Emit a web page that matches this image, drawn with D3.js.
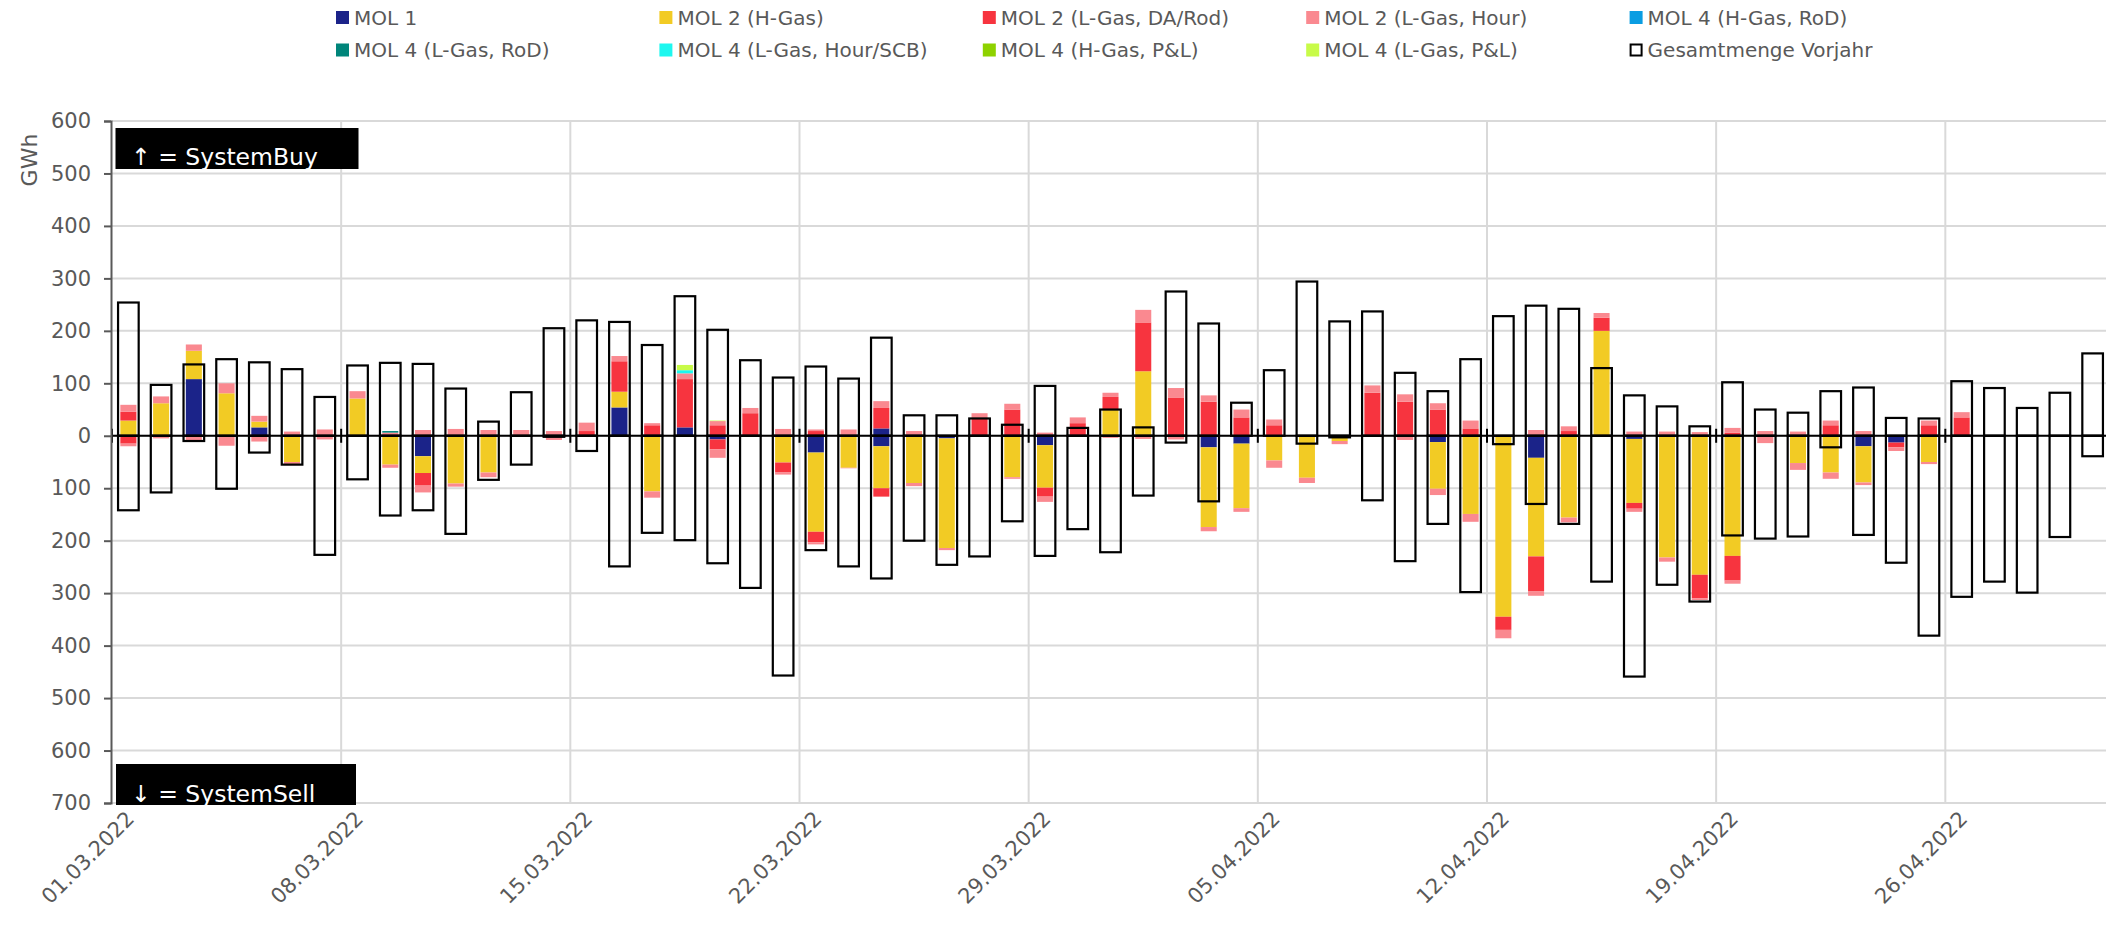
<!DOCTYPE html>
<html>
<head>
<meta charset="utf-8">
<script src="https://cdn.jsdelivr.net/npm/d3@7"></script>
<style>
  body { margin: 0; background: #fff; }
  svg text { font-family: "DejaVu Sans", sans-serif; fill: #595959; }
</style>
</head>
<body>
<div id="chart"></div>
<script>
var days = ["01.03.2022","02.03.2022","03.03.2022","04.03.2022","05.03.2022","06.03.2022","07.03.2022",
    "08.03.2022","09.03.2022","10.03.2022","11.03.2022","12.03.2022","13.03.2022","14.03.2022",
    "15.03.2022","16.03.2022","17.03.2022","18.03.2022","19.03.2022","20.03.2022","21.03.2022",
    "22.03.2022","23.03.2022","24.03.2022","25.03.2022","26.03.2022","27.03.2022","28.03.2022",
    "29.03.2022","30.03.2022","31.03.2022","01.04.2022","02.04.2022","03.04.2022","04.04.2022",
    "05.04.2022","06.04.2022","07.04.2022","08.04.2022","09.04.2022","10.04.2022","11.04.2022",
    "12.04.2022","13.04.2022","14.04.2022","15.04.2022","16.04.2022","17.04.2022","18.04.2022",
    "19.04.2022","20.04.2022","21.04.2022","22.04.2022","23.04.2022","24.04.2022","25.04.2022",
    "26.04.2022","27.04.2022","28.04.2022","29.04.2022","30.04.2022"];

var tickDays = ["01.03.2022","08.03.2022","15.03.2022","22.03.2022","29.03.2022",
    "05.04.2022","12.04.2022","19.04.2022","26.04.2022"];

var yTicks = [600,500,400,300,200,100,0,-100,-200,-300,-400,-500,-600,-700];

// SystemBuy (up) and SystemSell (down) per series, GWh
var mol1Buy  = [0,0,108,0,16,0,0,0,0,0, 0,0,0,0,0,54,0,16,0,0, 0,0,0,14,0,0,0,0,0,0, 0,0,0,0,0,0,0,0,0,0, 0,0,0,0,0,0,0,0,0,0, 0,0,0,0,0,0,0,0,0,0, 0];
var mol1Sell = [0,0,0,0,0,0,0,0,0,39, 0,0,0,0,0,0,0,0,7,0, 0,32,0,20,0,5,0,0,18,0, 0,0,0,22,15,0,0,0,0,0, 12,0,0,42,0,0,6,0,0,0, 0,0,0,20,13,0,0,0,0,0, 0];

var mol2hBuy  = [29,62,54,81,11,0,0,71,0,0, 0,0,0,0,0,30,0,0,0,0, 0,0,0,0,0,0,0,0,0,0, 49,123,0,0,0,0,0,0,0,0, 0,0,0,0,0,200,0,0,0,0, 0,0,0,0,0,0,0,0,0,0, 0];
var mol2hSell = [0,0,0,0,0,50,0,0,55,32, 91,70,0,0,0,0,106,0,0,0, 51,151,61,80,90,209,0,79,81,0, 0,0,0,152,123,47,80,10,0,0, 89,149,345,188,156,0,122,232,265,229, 0,52,70,69,0,50,0,0,0,0, 0];

var mol2lDaBuy  = [17,0,0,0,0,0,0,0,0,0, 0,0,0,0,9,58,20,92,20,43, 0,9,0,39,0,0,32,50,0,24, 25,93,73,65,35,20,0,0,82,65, 50,14,0,0,9,25,0,0,0,6, 0,0,20,0,0,20,35,0,0,0, 0];
var mol2lDaSell = [15,0,0,0,0,0,0,0,0,24, 0,0,0,0,0,0,0,0,19,0, 19,20,0,16,0,0,0,0,17,0, 0,0,0,0,0,0,0,0,0,0, 0,0,25,66,0,0,11,0,45,47, 0,0,0,0,9,0,0,0,0,0, 0];

var mol2lHourBuy  = [13,13,12,19,11,8,12,14,6,11, 13,11,11,9,16,10,4,11,8,10, 13,3,12,13,9,0,11,11,6,11, 8,24,18,12,15,11,0,1,14,14, 12,15,0,11,9,9,8,8,7,9, 9,8,9,9,0,9,10,0,0,0, 0];
var mol2lHourSell = [5,5,9,19,11,6,7,0,6,13, 6,9,0,8,0,0,12,0,16,0, 4,4,1,0,6,4,0,3,10,0, 4,6,7,8,7,14,10,6,0,8, 12,15,16,9,9,0,6,8,3,6, 14,13,12,5,7,4,0,0,0,0, 0];

var mol4hRodBuy   = [0,0,0,0,0,0,0,0,0,0, 0,0,0,0,0,0,0,0,0,0, 0,0,0,0,0,0,0,0,0,0, 0,0,0,0,0,0,0,0,0,0, 0,0,0,0,0,0,0,0,0,0, 0,0,0,0,0,0,0,0,0,0, 0];
var mol4lRodBuy   = [0,0,0,0,0,0,0,0,3,0, 0,0,0,0,0,0,0,0,0,0, 0,0,0,0,0,0,0,0,0,0, 0,0,0,0,0,0,0,0,0,0, 0,0,0,0,0,0,0,0,0,0, 0,0,0,0,0,0,0,0,0,0, 0];
var mol4lHourBuy  = [0,0,0,0,0,0,0,0,0,0, 0,0,0,0,0,0,0,6,0,0, 0,0,0,0,0,0,0,0,0,0, 0,0,0,0,0,0,0,0,0,0, 0,0,0,0,0,0,0,0,0,0, 0,0,0,0,0,0,0,0,0,0, 0];
var mol4hPlBuy    = [0,0,0,0,0,0,0,0,0,0, 0,0,0,0,0,0,0,0,0,0, 0,0,0,0,0,0,0,0,0,0, 0,0,0,0,0,0,0,0,0,0, 0,0,0,0,0,0,0,0,0,0, 0,0,0,0,0,0,0,0,0,0, 0];
var mol4lPlBuy    = [0,0,0,0,0,0,0,0,0,0, 0,0,0,0,0,0,0,10,1,0, 0,0,0,0,0,0,0,0,0,0, 0,0,0,0,0,0,0,0,0,0, 0,0,0,0,0,0,0,0,0,0, 0,0,0,0,0,0,0,0,0,0, 0];

// Gesamtmenge Vorjahr
var prevBuy  = [254,97,136,146,140,127,74,134,139,137, 90,27,83,205,220,217,173,266,202,144, 111,132,109,187,39,39,33,21,95,15, 50,16,275,214,63,125,294,218,237,120, 85,146,228,248,242,129,77,56,18,102, 50,44,85,92,34,33,104,91,53,82, 157];
var prevSell = [142,108,10,101,32,55,227,83,152,142, 187,84,55,2,29,249,185,199,243,290, 457,218,249,272,200,246,230,163,229,178, 222,114,13,125,0,0,15,3,123,239, 168,298,16,130,168,278,459,284,316,190, 196,192,22,189,242,381,307,278,299,193, 39];

var seriesNames = ["MOL 1","MOL 2 (H-Gas)","MOL 2 (L-Gas, DA/Rod)","MOL 2 (L-Gas, Hour)","MOL 4 (H-Gas, RoD)",
    "MOL 4 (L-Gas, RoD)","MOL 4 (L-Gas, Hour/SCB)","MOL 4 (H-Gas, P&L)","MOL 4 (L-Gas, P&L)"];
var seriesBuy  = [mol1Buy, mol2hBuy, mol2lDaBuy, mol2lHourBuy, mol4hRodBuy, mol4lRodBuy, mol4lHourBuy, mol4hPlBuy, mol4lPlBuy];
var seriesSell = [mol1Sell, mol2hSell, mol2lDaSell, mol2lHourSell, null, null, null, null, null];
var colors = ["#1b2389","#f2cb24","#f7343f","#fa8990","#0a9de2","#00857a","#1ef7ef","#8ed200","#c8fb48"];

(function() {
    var width = 2106,
        height = 925;

    var svg = d3.select("#chart")
        .append("svg")
        .attr("width", width)
        .attr("height", height);

    var x = d3.scaleBand().domain(days).range([112, 2109]);
    var y = d3.scaleLinear().domain([-700, 600]).range([803, 121]);
    var bw = x.bandwidth();

    // gridlines
    svg.append("g").selectAll("line")
        .data(yTicks)
        .enter().append("line")
        .attr("x1", 112).attr("x2", width)
        .attr("y1", function(d) { return y(d); })
        .attr("y2", function(d) { return y(d); })
        .attr("stroke", "#d9d9d9")
        .attr("stroke-width", 2);

    var bounds = days.filter(function(d, i) { return i % 7 === 0; });

    svg.append("g").selectAll("line")
        .data(bounds.slice(1))
        .enter().append("line")
        .attr("x1", function(d) { return x(d); })
        .attr("x2", function(d) { return x(d); })
        .attr("y1", y(600)).attr("y2", y(-700))
        .attr("stroke", "#d9d9d9")
        .attr("stroke-width", 2);

    // stacked bars
    var rows = days.map(function(d, i) {
        var r = { day: d };
        seriesNames.forEach(function(n, j) {
            r["b" + j] = seriesBuy[j][i];
            r["s" + j] = seriesSell[j] ? -seriesSell[j][i] : 0;
        });
        return r;
    });
    var keys = [];
    seriesNames.forEach(function(n, j) { keys.push("b" + j, "s" + j); });

    var stacked = d3.stack().keys(keys).offset(d3.stackOffsetDiverging)(rows);
    var barW = bw * 0.49;

    svg.append("g").selectAll("g")
        .data(stacked)
        .enter().append("g")
        .attr("fill", function(s) { return colors[Math.floor(s.index / 2)]; })
        .selectAll("rect")
        .data(function(s) { return s.filter(function(d) { return d[1] !== d[0]; }); })
        .enter().append("rect")
        .attr("x", function(d) { return x(d.data.day) + (bw - barW) / 2; })
        .attr("width", barW)
        .attr("y", function(d) { return y(d[1]); })
        .attr("height", function(d) { return y(d[0]) - y(d[1]); });

    // previous year boxes
    var boxW = bw * 0.63;
    var boxes = svg.append("g")
        .attr("fill", "none")
        .attr("stroke", "#000")
        .attr("stroke-width", 2.2);

    boxes.selectAll(".up")
        .data(days)
        .enter().append("rect")
        .attr("class", "up")
        .attr("x", function(d) { return x(d) + (bw - boxW) / 2; })
        .attr("width", boxW)
        .attr("y", function(d, i) { return y(prevBuy[i]); })
        .attr("height", function(d, i) { return y(0) - y(prevBuy[i]); });

    boxes.selectAll(".down")
        .data(days.filter(function(d, i) { return prevSell[i] > 0; }))
        .enter().append("rect")
        .attr("class", "down")
        .attr("x", function(d) { return x(d) + (bw - boxW) / 2; })
        .attr("width", boxW)
        .attr("y", y(0))
        .attr("height", function(d) { return y(-prevSell[days.indexOf(d)]) - y(0); });

    // zero line and its ticks
    svg.append("line")
        .attr("x1", 112).attr("x2", width)
        .attr("y1", y(0)).attr("y2", y(0))
        .attr("stroke", "#000")
        .attr("stroke-width", 2.2);

    svg.append("g").selectAll("line")
        .data(bounds)
        .enter().append("line")
        .attr("x1", function(d) { return x(d); })
        .attr("x2", function(d) { return x(d); })
        .attr("y1", y(0) - 7).attr("y2", y(0) + 7)
        .attr("stroke", "#000")
        .attr("stroke-width", 2);

    // y axis
    var yAxis = svg.append("g")
        .attr("transform", "translate(111,0)")
        .call(d3.axisLeft(y).tickValues(yTicks).tickSize(7).tickPadding(13)
            .tickFormat(function(d) { return Math.abs(d); }));
    yAxis.select(".domain").attr("stroke", "#595959").attr("stroke-width", 2);
    yAxis.selectAll(".tick line").attr("stroke", "#595959").attr("stroke-width", 2);
    yAxis.selectAll(".tick text")
        .attr("font-size", 21)
        .attr("font-family", "DejaVu Sans")
        .attr("fill", "#595959");

    svg.append("text")
        .attr("transform", "translate(37,160) rotate(-90)")
        .attr("text-anchor", "middle")
        .attr("font-size", 22)
        .text("GWh");

    // x labels
    svg.append("g").selectAll("text")
        .data(tickDays)
        .enter().append("text")
        .attr("transform", function(d) {
            return "translate(" + (x(d) + bw / 2 + 7) + ",820) rotate(-45)";
        })
        .attr("text-anchor", "end")
        .attr("font-size", 21)
        .text(function(d) { return d; });

    // SystemBuy / SystemSell boxes
    var notes = [
        { text: "\u2191 = SystemBuy", x: 115.5, y: 128, w: 243, h: 41, base: 165 },
        { text: "\u2193 = SystemSell", x: 116, y: 764, w: 240, h: 41, base: 802 }
    ];
    var defs = svg.append("defs");
    notes.forEach(function(n, i) {
        defs.append("clipPath").attr("id", "note" + i)
            .append("rect").attr("x", n.x).attr("y", n.y).attr("width", n.w).attr("height", n.h);
        svg.append("rect")
            .attr("x", n.x).attr("y", n.y).attr("width", n.w).attr("height", n.h)
            .attr("fill", "#000");
        svg.append("text")
            .attr("clip-path", "url(#note" + i + ")")
            .attr("x", 131).attr("y", n.base)
            .attr("font-size", 23.5)
            .style("fill", "#fff")
            .text(n.text);
    });

    // legend
    var legendItems = seriesNames.concat(["Gesamtmenge Vorjahr"]);
    var legend = svg.append("g").selectAll("g")
        .data(legendItems)
        .enter().append("g")
        .attr("transform", function(d, i) {
            return "translate(" + (336 + (i % 5) * 323.4) + "," + (i < 5 ? 17.5 : 50) + ")";
        });

    legend.append("rect")
        .attr("x", function(d, i) { return i < 9 ? 0 : 1; })
        .attr("y", function(d, i) { return i < 9 ? -6.5 : -5.5; })
        .attr("width", function(d, i) { return i < 9 ? 13 : 11; })
        .attr("height", function(d, i) { return i < 9 ? 13 : 11; })
        .attr("fill", function(d, i) { return i < 9 ? colors[i] : "#fff"; })
        .attr("stroke", function(d, i) { return i < 9 ? "none" : "#000"; })
        .attr("stroke-width", 2);

    legend.append("text")
        .attr("x", 18)
        .attr("y", 7)
        .attr("font-size", 20)
        .text(function(d) { return d; });
})();
</script>
</body>
</html>
